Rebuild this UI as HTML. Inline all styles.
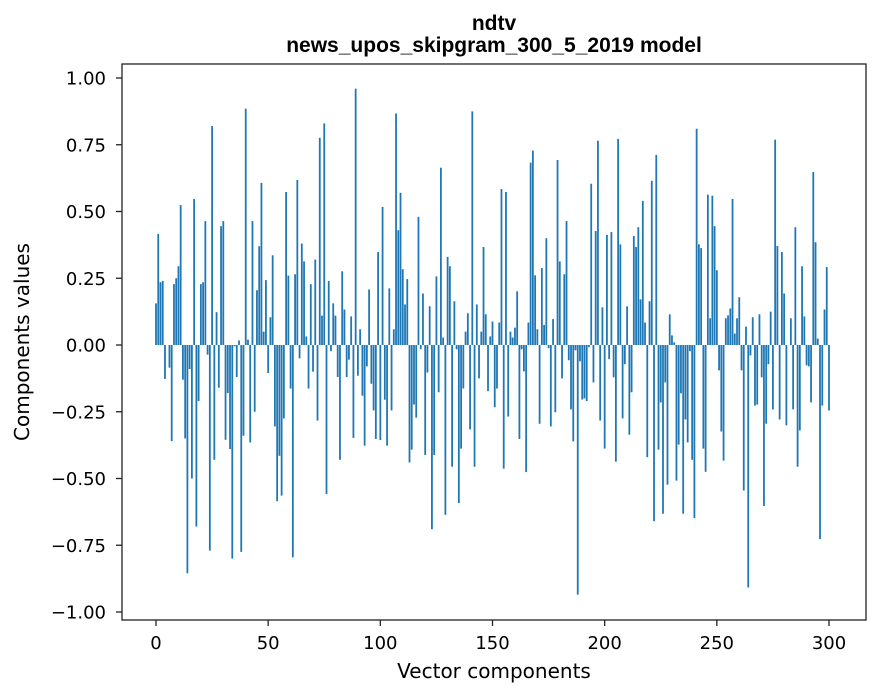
<!DOCTYPE html>
<html><head><meta charset="utf-8"><style>
html,body{margin:0;padding:0;background:#fff;}
svg{display:block;font-family:"DejaVu Sans","Liberation Sans",sans-serif;}
</style></head><body>
<svg id="chart" width="880" height="696" viewBox="0 0 880 696">
<rect width="880" height="696" fill="#fff"/>
<text x="494" y="30" text-anchor="middle" font-size="21" font-weight="bold" font-family="Liberation Sans, Arial, sans-serif">ndtv</text>
<text x="494" y="52" text-anchor="middle" font-size="21" font-weight="bold" font-family="Liberation Sans, Arial, sans-serif">news_upos_skipgram_300_5_2019 model</text>
<g id="bars"></g>
<g id="xticks"></g>
<g id="yticks"></g>
<rect x="122" y="64" width="744" height="556" fill="none" stroke="#222" stroke-width="1.3"/>
<text x="494" y="678" text-anchor="middle" font-size="20">Vector components</text>
<text transform="translate(29,342) rotate(-90)" text-anchor="middle" font-size="20">Components values</text>
</svg>
<script>
const values = [
0.156,0.416,0.235,0.24,-0.127,0.0,-0.085,-0.36,0.228,0.25,0.295,0.524,-0.13,-0.35,-0.855,-0.09,-0.5,0.547,-0.68,-0.21,0.228,0.235,0.464,-0.036,-0.77,0.82,-0.43,0.123,-0.16,0.445,0.464,-0.355,-0.18,-0.39,-0.8,-0.005,-0.12,0.017,-0.775,-0.34,0.885,0.02,
-0.365,0.464,-0.25,0.205,0.37,0.607,0.05,0.243,-0.105,0.104,0.336,-0.305,-0.585,-0.415,-0.564,-0.275,0.573,0.26,-0.163,-0.795,0.265,0.618,-0.05,0.38,0.313,0.032,-0.163,0.228,-0.1,0.32,-0.283,0.776,0.11,0.83,-0.558,0.24,-0.023,0.156,0.11,-0.12,-0.43,0.276,0.133,-0.12,
-0.055,0.107,-0.348,0.96,-0.115,0.059,-0.19,-0.377,-0.08,0.208,-0.145,-0.245,-0.352,0.348,-0.356,0.517,-0.205,-0.377,0.212,-0.245,0.059,0.867,0.43,0.57,0.284,0.152,0.247,-0.44,-0.392,-0.223,-0.272,0.48,-0.016,0.193,-0.412,-0.103,0.145,-0.69,-0.412,0.257,-0.177,0.664,0.028,
-0.636,0.33,0.295,-0.456,0.164,-0.016,-0.592,-0.388,-0.163,0.05,0.119,-0.316,0.875,-0.456,0.152,-0.125,0.05,0.367,0.115,-0.173,0.032,0.088,-0.233,-0.163,0.084,0.584,-0.463,0.573,-0.268,0.05,0.028,0.065,0.201,-0.352,-0.016,-0.099,-0.476,0.084,0.683,0.728,0.261,0.059,-0.295,
0.288,0.075,0.40,-0.012,-0.305,0.097,-0.252,0.693,0.313,-0.125,0.265,0.464,-0.057,-0.241,-0.361,-0.02,-0.935,-0.061,-0.204,-0.2,-0.21,-0.008,0.604,-0.14,0.427,0.765,-0.283,0.141,-0.388,0.412,-0.053,0.423,-0.121,-0.437,0.772,0.377,-0.275,-0.072,0.145,-0.336,-0.177,0.408,0.367,0.441,
0.171,0.54,0.084,-0.42,0.164,0.615,-0.66,0.712,-0.392,-0.215,-0.632,-0.14,-0.523,0.115,0.036,0.01,-0.508,-0.373,-0.181,-0.632,-0.279,-0.365,-0.023,-0.43,-0.648,0.81,0.377,0.363,-0.388,-0.475,0.563,0.1,0.559,0.445,0.28,-0.095,-0.324,-0.433,0.1,0.111,0.137,0.547,0.043,0.1,
0.179,-0.095,-0.545,0.069,-0.908,-0.039,0.104,-0.227,-0.223,0.115,-0.121,-0.603,-0.295,-0.072,0.125,-0.241,0.769,0.371,-0.279,0.348,0.193,-0.301,0.0,0.1,-0.241,0.441,-0.456,-0.32,0.295,0.107,-0.076,-0.08,-0.215,0.648,0.385,0.024,-0.727,-0.227,0.133,0.292,-0.245
];
const xTicks = [0,50,100,150,200,250,300];
const yTicks = [-1.00,-0.75,-0.50,-0.25,0.00,0.25,0.50,0.75,1.00];

const NS = "http://www.w3.org/2000/svg";
function xScale(v){ return 156 + v * (673/300); }
function yScale(v){ return 345 - v * 267; }
const barW = 0.8 * (673/300);

const gb = document.getElementById('bars');
values.forEach((v, i) => {
  const r = document.createElementNS(NS, 'rect');
  const y0 = yScale(0), y1 = yScale(v);
  r.setAttribute('x', (xScale(i) - barW/2).toFixed(2));
  r.setAttribute('y', Math.min(y0, y1).toFixed(2));
  r.setAttribute('width', barW.toFixed(2));
  r.setAttribute('height', Math.max(Math.abs(y1 - y0), 0.01).toFixed(2));
  r.setAttribute('fill', '#1f77b4');
  
  
  gb.appendChild(r);
});

const gx = document.getElementById('xticks');
xTicks.forEach(t => {
  const x = xScale(t);
  const l = document.createElementNS(NS, 'line');
  l.setAttribute('x1', x); l.setAttribute('x2', x);
  l.setAttribute('y1', 620); l.setAttribute('y2', 626);
  l.setAttribute('stroke', '#222'); l.setAttribute('stroke-width', '1.3');
  
  
  gx.appendChild(l);
  const tx = document.createElementNS(NS, 'text');
  tx.setAttribute('x', x); tx.setAttribute('y', 649);
  tx.setAttribute('text-anchor', 'middle'); tx.setAttribute('font-size', '18');
  tx.textContent = String(t);
  
  
  gx.appendChild(tx);
});

const gy = document.getElementById('yticks');
yTicks.forEach(t => {
  const y = yScale(t);
  const l = document.createElementNS(NS, 'line');
  l.setAttribute('x1', 116); l.setAttribute('x2', 122);
  l.setAttribute('y1', y); l.setAttribute('y2', y);
  l.setAttribute('stroke', '#222'); l.setAttribute('stroke-width', '1.3');
  
  
  gy.appendChild(l);
  const tx = document.createElementNS(NS, 'text');
  tx.setAttribute('x', 106); tx.setAttribute('y', y + 6.5);
  tx.setAttribute('text-anchor', 'end'); tx.setAttribute('font-size', '18');
  tx.textContent = (t < 0 ? '\u2212' : '') + Math.abs(t).toFixed(2);
  
  
  gy.appendChild(tx);
});
</script>
</body></html>
